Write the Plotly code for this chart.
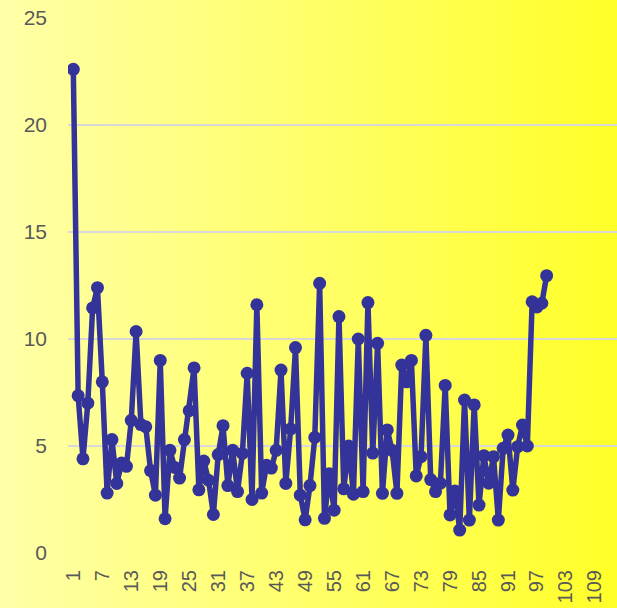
import base64
import plotly.graph_objects as go

# ---- data ----
values = [
    22.6, 7.35, 4.4, 7.0, 11.45, 12.4, 8.0, 2.8, 5.3, 3.25,
    4.2, 4.05, 6.2, 10.35, 6.0, 5.9, 3.85, 2.7, 9.0, 1.6,
    4.8, 4.0, 3.5, 5.3, 6.65, 8.65, 2.95, 4.3, 3.4, 1.8,
    4.6, 5.95, 3.15, 4.8, 2.87, 4.65, 8.4, 2.5, 11.6, 2.8,
    4.1, 3.97, 4.8, 8.55, 3.25, 5.8, 9.6, 2.7, 1.55, 3.15,
    5.4, 12.6, 1.62, 3.7, 2.0, 11.05, 3.0, 5.0, 2.75, 10.0,
    2.87, 11.7, 4.67, 9.8, 2.79, 5.75, 4.8, 2.79, 8.78, 8.0,
    9.0, 3.6, 4.5, 10.17, 3.43, 2.87, 3.26, 7.83, 1.78, 2.9,
    1.07, 7.15, 1.54, 6.92, 2.24, 4.55, 3.26, 4.5, 1.54, 4.89,
    5.51, 2.94, 4.97, 5.98, 5.0, 11.74, 11.5, 11.67, 12.96,
]
categories = list(range(1, len(values) + 1))
x_tick_values = [1, 7, 13, 19, 25, 31, 37, 43, 49, 55, 61, 67, 73, 79, 85, 91, 97, 103, 109]
x_tick_labels = ["1", "7", "13", "19", "25", "31", "37", "43", "49", "55", "61",
                 "67", "73", "79", "85", "91", "97", "103", "109"]
y_tick_values = [0, 5, 10, 15, 20, 25]

# ---- styling ----
W, H = 617, 608
ML, MR, MT, MB = 68, 0, 18, 55
PW, PH = W - ML - MR, H - MT - MB
LINE = "#333399"
FONT = "Liberation Sans, Arial, sans-serif"

svg = (
    '<svg xmlns="http://www.w3.org/2000/svg" width="100" height="100" '
    'viewBox="0 0 100 100" preserveAspectRatio="none">'
    '<defs><linearGradient id="g" x1="0" y1="0" x2="1" y2="0">'
    '<stop offset="0" stop-color="#FFFFA8"/>'
    '<stop offset="0.5" stop-color="#FFFF6A"/>'
    '<stop offset="1" stop-color="#FFFF28"/>'
    '</linearGradient></defs>'
    '<rect width="100" height="100" fill="url(#g)"/></svg>'
)
bg_src = "data:image/svg+xml;base64," + base64.b64encode(svg.encode()).decode()

fig = go.Figure(
    go.Scatter(
        x=categories,
        y=values,
        mode="lines+markers",
        line=dict(color=LINE, width=5.5),
        marker=dict(color=LINE, size=13),
        hoverinfo="x+y",
    )
)

fig.add_layout_image(
    dict(
        source=bg_src,
        xref="paper", yref="paper",
        x=-ML / PW, y=1 + MT / PH,
        sizex=W / PW, sizey=H / PH,
        xanchor="left", yanchor="top",
        sizing="stretch", layer="below",
    )
)

fig.update_layout(
    width=W, height=H,
    margin=dict(l=ML, r=MR, t=MT, b=MB, autoexpand=False),
    paper_bgcolor="rgba(0,0,0,0)",
    plot_bgcolor="rgba(0,0,0,0)",
    showlegend=False,
    font=dict(family=FONT, size=20, color="#595959"),
    xaxis=dict(
        range=[-0.1, 1 + (W - MR - 73.3) / 4.83],
        tickmode="array",
        tickvals=x_tick_values,
        ticktext=x_tick_labels,
        tickangle=-90,
        showgrid=False,
        zeroline=False,
        showline=False,
        ticks="",
        automargin=False,
        ticklabelstandoff=12,
        tickfont=dict(size=20, color="#595959"),
    ),
    yaxis=dict(
        range=[0, 25],
        tickmode="array",
        tickvals=y_tick_values,
        showgrid=True,
        gridcolor="#d8d8d8",
        gridwidth=2,
        zeroline=False,
        showline=False,
        ticks="",
        automargin=False,
        ticklabelstandoff=20,
        tickfont=dict(size=21, color="#595959"),
    ),
)

fig.write_html(
    "out.html",
    config={"displayModeBar": False},
    post_script="document.body.style.margin='0';document.body.style.padding='0';"
                "document.body.style.overflow='hidden';",
)
